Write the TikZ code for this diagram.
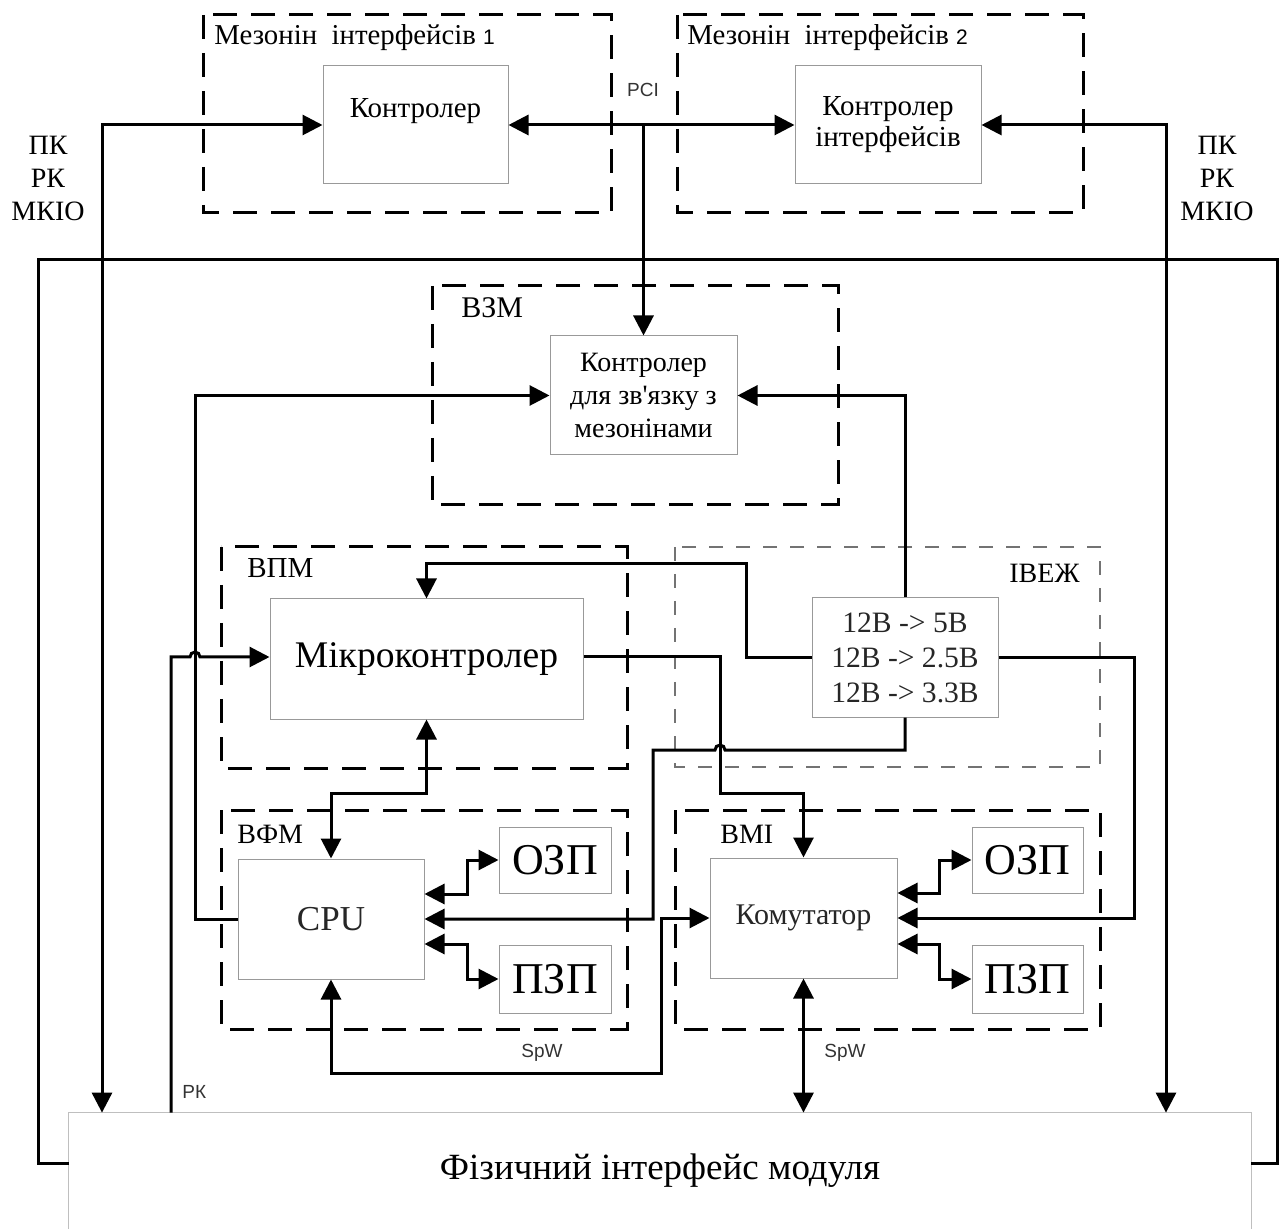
\documentclass[tikz,border=0pt]{standalone}
\usepackage{fontspec}
\setmainfont{Liberation Serif}[Ligatures=TeXOff]
\setsansfont{Liberation Sans}
\usetikzlibrary{arrows.meta,calc}

\newcommand\fsz[2]{\fontsize{#1}{#2}\selectfont}

\tikzset{
  grp/.style={draw, line width=1.5pt, dash pattern=on 12pt off 7pt},
  grpgray/.style={draw=black!55, line width=0.9pt, dash pattern=on 7pt off 6.5pt},
  blk/.style={draw=black!40, line width=0.5pt, fill=white, inner sep=0pt,
    align=center, font=\fsz{14.5}{17}},
  boxline/.style={draw=black!25, line width=0.6pt},
  wire/.style={line width=1.5pt},
  tip/.tip={Triangle[length=10pt,width=10pt]},
  arr/.style={wire, -tip},
  dbl/.style={wire, tip-tip},
  glabel/.style={anchor=base west, inner sep=0pt, font=\fsz{14}{16}},
  sig/.style={font=\sffamily\fsz{9.5}{11}, inner sep=1pt, text=black!80},
  side/.style={align=center, inner sep=0pt, font=\fsz{14}{16.5}},
}

\begin{document}
\begin{tikzpicture}[x=0.5pt, y=-0.5pt]
\useasboundingbox (0,0) rectangle (1280,1229);

% module groups
\draw[grp] (203,15) rectangle (611,213);
\draw[grp] (677,15) rectangle (1083,213);
\draw[grp] (432,286) rectangle (838,505);
\draw[grp] (221,547) rectangle (627,768);
\draw[grpgray] (675,547) rectangle (1100,767);
\draw[grp] (221,810) rectangle (627,1029);
\draw[grp] (675,810) rectangle (1100,1029);

\node[glabel, font=\fsz{14.4}{16}] (m1lbl) at (214,45) {Мезонін\ \ інтерфейсів {\sffamily\fsz{10.5}{12}1}};
\node[glabel, font=\fsz{14.4}{16}] (m2lbl) at (687,45) {Мезонін\ \ інтерфейсів {\sffamily\fsz{10.5}{12}2}};
\node[glabel, font=\fsz{15}{16}] (vzmlbl) at (461,318) {ВЗМ};
\node[glabel, font=\fsz{14.5}{16}] (vpmlbl) at (247,578) {ВПМ};
\node[glabel] (ivlbl) at (1009,583) {ІВЕЖ};
\node[glabel] (vfmlbl) at (237,843) {ВФМ};
\node[glabel] (vmilbl) at (720,843) {ВМІ};

% blocks
\node[blk, minimum width=92.5pt, minimum height=59pt] (ctl1) at (415.5,125) {Контролер\\\mbox{}};
\node[blk, minimum width=93pt, minimum height=59pt, font=\fsz{14.5}{15.5}] (ctl2) at (888,125) {Контролер\\інтерфейсів};
\node[blk, minimum width=93.5pt, minimum height=59.5pt, font=\fsz{14}{16.5}] (vzmc) at (643.5,395.5)
  {Контролер\\для зв'язку з\\мезонінами};
\node[blk, minimum width=156.5pt, minimum height=60pt, font=\fsz{18.8}{20}] (mcu) at (426.5,659) {Мікроконтролер};
\node[blk, minimum width=93pt, minimum height=59.5pt, font=\fsz{14.8}{17.5}, text=black!85] (pwr) at (905,657.5)
  {12В -> 5В\\12В -> 2.5В\\12В -> 3.3В};
\node[blk, minimum width=93pt, minimum height=60pt, font=\fsz{17.5}{20}, text=black!85] (cpu) at (331,919) {CPU};
\node[blk, minimum width=56pt, minimum height=33pt, font=\fsz{22}{24}] (ozp1) at (555,860) {ОЗП};
\node[blk, minimum width=56pt, minimum height=34pt, font=\fsz{22}{24}] (pzp1) at (555,979) {ПЗП};
\node[blk, minimum width=93.5pt, minimum height=60pt, font=\fsz{15}{17}, text=black!85] (kom) at (803.5,918) {Комутатор};
\node[blk, minimum width=55.5pt, minimum height=33pt, font=\fsz{22}{24}] (ozp2) at (1027.5,860) {ОЗП};
\node[blk, minimum width=55.5pt, minimum height=34pt, font=\fsz{22}{24}] (pzp2) at (1027.5,979) {ПЗП};

\node[inner sep=0pt, minimum width=591pt, minimum height=58pt, font=\fsz{18.5}{20}] (phys) at (660,1171)
  {Фізичний інтерфейс модуля};
\draw[boxline] (phys.south west) |- (phys.north east) -- (phys.south east);

% external lines
\node[side] (extl) at (48,178) {ПК\\РК\\МКІО};
\node[side] (extr) at (1217,178) {ПК\\РК\\МКІО};

% connections
\draw[wire] (phys.west |- 0,1163) -- (38,1163) |- (1277,260) -- (1277,1163) -- (phys.east |- 0,1163);
\draw[dbl] (ctl1.west) -| (phys.north -| 102,0);
\draw[dbl] (ctl2.east) -| (phys.north -| 1166,0);
\draw[dbl] (ctl1.east) -- (ctl2.west);
\draw[arr] (vzmc.north |- ctl1.east) -- (vzmc.north);
\node[sig] (pci) at (643,90) {PCI};

\draw[arr] (cpu.west) -- (195,919) |- (vzmc.west);
\draw[arr] (pwr.north) |- (vzmc.east);
\draw[arr] (pwr.west) -- (746,657.5) |- (mcu.north |- 0,564) -- (mcu.north);
\draw[arr] (mcu.east |- 0,657) -- (720,657) |- (kom.north |- 0,793) -- (kom.north);
\draw[arr] (pwr.south) -- (905,750) -- (725,750) arc[start angle=0, end angle=180, radius=2.5pt]
  -- (653,750) |- (cpu.east);
\draw[arr] (pwr.east) -- (1134,657.5) |- (kom.east);
\draw[arr] (phys.north -| 171,0) -- (171,657) -- (190,657) arc[start angle=180, end angle=0, radius=2.5pt]
  -- (mcu.west |- 0,657);
\node[sig, anchor=west] (rk) at (180,1092) {РК};

\draw[dbl] (mcu.south) -- (mcu.south |- 0,793) -| (cpu.north);
\draw[dbl] (cpu.south) |- (661,1073) |- (kom.west);
\node[sig] (spw1) at (542,1053) {SpW};
\draw[dbl] (kom.south) -- (kom.south |- phys.north);
\node[sig] (spw2) at (845,1053) {SpW};

\draw[dbl] (cpu.east |- 0,894) -- (467,894) |- (ozp1.west);
\draw[dbl] (cpu.east |- 0,944) -- (467,944) |- (pzp1.west);
\draw[dbl] (kom.east |- 0,893) -- (939,893) |- (ozp2.west);
\draw[dbl] (kom.east |- 0,944) -- (939,944) |- (pzp2.west);

\end{tikzpicture}
\end{document}
